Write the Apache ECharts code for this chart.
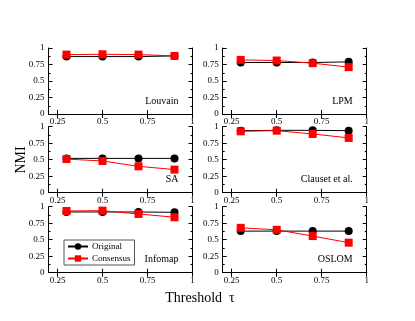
<!DOCTYPE html>
<html><head><meta charset="utf-8">
<script src="https://cdn.jsdelivr.net/npm/echarts@6/dist/echarts.min.js"></script>
<style>html,body{margin:0;padding:0;background:#fff}#c{width:415px;height:321px}</style>
</head><body><div id="c"></div>
<script>
var thresholds = [0.3, 0.5, 0.7, 0.9];
var xTicks = [0.25, 0.5, 0.75, 1];
var yTicks = [0, 0.25, 0.5, 0.75, 1];
var panelNames = ['Louvain', 'LPM', 'SA', 'Clauset et al.', 'Infomap', 'OSLOM'];
var louvainOriginal = [0.87, 0.87, 0.87, 0.88];
var louvainConsensus = [0.90, 0.905, 0.90, 0.88];
var lpmOriginal = [0.78, 0.78, 0.78, 0.79];
var lpmConsensus = [0.82, 0.81, 0.77, 0.71];
var saOriginal = [0.52, 0.52, 0.52, 0.52];
var saConsensus = [0.51, 0.48, 0.40, 0.35];
var clausetOriginal = [0.94, 0.945, 0.945, 0.94];
var clausetConsensus = [0.93, 0.94, 0.89, 0.83];
var infomapOriginal = [0.92, 0.92, 0.92, 0.915];
var infomapConsensus = [0.935, 0.94, 0.89, 0.84];
var oslomOriginal = [0.63, 0.63, 0.63, 0.63];
var oslomConsensus = [0.68, 0.65, 0.555, 0.455];

var originals = [louvainOriginal, lpmOriginal, saOriginal, clausetOriginal, infomapOriginal, oslomOriginal];
var consensus = [louvainConsensus, lpmConsensus, saConsensus, clausetConsensus, infomapConsensus, oslomConsensus];

var lefts = [48.5, 222.7];
var tops = [48, 126.7, 206.7];
var W = 144, H = 66;
var font = '"Liberation Serif", "DejaVu Serif", serif';

var grids = [], xAxes = [], yAxes = [], series = [], graphics = [];
function pair(v) { return thresholds.map(function (t, i) { return [t, v[i]]; }); }

for (var p = 0; p < 6; p++) {
  var col = p % 2, row = Math.floor(p / 2);
  grids.push({ left: lefts[col], top: tops[row], width: W, height: H, show: false });
  var base = { type: 'value', gridIndex: p, min: 0.2, max: 1,
    axisLine: { show: true, lineStyle: { color: '#000', width: 1 } },
    axisTick: { show: true, inside: true, length: 4, customValues: xTicks, lineStyle: { color: '#000' } },
    splitLine: { show: false } };
  xAxes.push(Object.assign({}, base, { position: 'bottom',
    axisLabel: { show: true, customValues: xTicks, margin: 3, fontSize: 9, fontFamily: font, color: '#000',
      formatter: function (v) { return String(v); } } }));
  xAxes.push(Object.assign({}, base, { position: 'top', axisLabel: { show: false } }));
  var ybase = { type: 'value', gridIndex: p, min: 0, max: 1, interval: 0.25,
    axisLine: { show: true, lineStyle: { color: '#000', width: 1 } },
    axisTick: { show: true, inside: true, length: 4, lineStyle: { color: '#000' } },
    minorTick: { show: true, splitNumber: 2, length: 2, lineStyle: { color: '#000' } },
    splitLine: { show: false }, minorSplitLine: { show: false } };
  yAxes.push(Object.assign({}, ybase, { position: 'left',
    axisLabel: { show: true, margin: 4, fontSize: 9, fontFamily: font, color: '#000',
      formatter: function (v) { return String(v); } } }));
  yAxes.push(Object.assign({}, ybase, { position: 'right', axisLabel: { show: false } }));

  series.push({ name: 'Original', type: 'line', xAxisIndex: 2 * p, yAxisIndex: 2 * p,
    data: pair(originals[p]), symbol: 'circle', symbolSize: 8,
    lineStyle: { color: '#000', width: 1 }, itemStyle: { color: '#000' }, z: 2, animation: false });
  series.push({ name: 'Consensus', type: 'line', xAxisIndex: 2 * p, yAxisIndex: 2 * p,
    data: pair(consensus[p]), symbol: 'rect', symbolSize: 8,
    lineStyle: { color: '#ff0000', width: 1 }, itemStyle: { color: '#ff0000' }, z: 3, animation: false });

  graphics.push({ type: 'text', right: 415 - (lefts[col] + W - 14), top: tops[row] + H - 18,
    style: { text: panelNames[p], font: '10px ' + font, fill: '#000' } });
}

graphics.push({ type: 'text', rotation: Math.PI / 2, x: 21, y: 160,
  style: { text: 'NMI', font: '14px ' + font, fill: '#000', textAlign: 'center', textVerticalAlign: 'middle' } });
graphics.push({ type: 'text', x: 200, y: 298,
  style: { text: 'Threshold  τ', font: '14px ' + font, fill: '#000', textAlign: 'center', textVerticalAlign: 'middle' } });

var chart = echarts.init(document.getElementById('c'), null, { renderer: 'canvas' });
chart.setOption({
  animation: false,
  backgroundColor: '#fff',
  grid: grids, xAxis: xAxes, yAxis: yAxes, series: series,
  legend: { data: ['Original', 'Consensus'], orient: 'vertical', left: 64, top: 240,
    itemWidth: 20, itemHeight: 8, itemGap: 3, padding: [2, 4, 2, 3],
    borderColor: '#555', borderWidth: 1, backgroundColor: '#fff',
    textStyle: { fontFamily: font, fontSize: 9, color: '#000', padding: [0, 0, 0, -1] } },
  graphic: graphics
});
</script></body></html>
